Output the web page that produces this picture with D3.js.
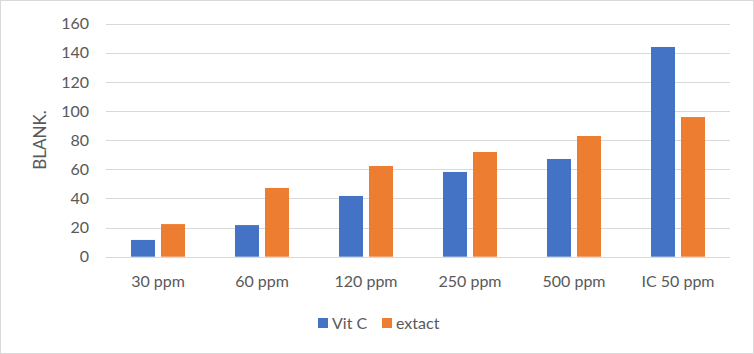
<!DOCTYPE html>
<html><head><meta charset="utf-8">
<script src="https://cdn.jsdelivr.net/npm/d3@7"></script>
<style>
html,body{margin:0;padding:0;background:#fff;}
svg{display:block;font-family:Lato,"Open Sans",sans-serif;}
</style></head>
<body><svg id="c" width="754" height="354"></svg>
<script>
const categories = ["30 ppm","60 ppm","120 ppm","250 ppm","500 ppm","IC 50 ppm"];
const seriesNames = ["Vit C","extact"];
const vitC = [11.5, 21.7, 41.7, 58.2, 67.1, 144];
const extact = [22.4, 47.2, 62.3, 71.9, 82.9, 95.9];
const yTicks = [0,20,40,60,80,100,120,140,160];
const colors = ["#4472C4","#ED7D31"];
const yTitle = "BLANK.";

const FS = "16px";
const svg = d3.select("#c");
const W = 754, H = 354;
svg.append("rect").attr("x",0.5).attr("y",0.5).attr("width",W-1).attr("height",H-1)
  .attr("fill","#fff").attr("stroke","#d9d9d9");

const m = {left:106, right:730, top:23.7, bottom:256.7};
const x = d3.scaleBand().domain(categories).range([m.left,m.right]).paddingInner(0).paddingOuter(0);
const y = d3.scaleLinear().domain([0,160]).range([m.bottom,m.top]);

// gridlines
svg.append("g").selectAll("line").data(yTicks).join("line")
  .attr("x1",m.left).attr("x2",m.right)
  .attr("y1",d=>Math.round(y(d))+0.5).attr("y2",d=>Math.round(y(d))+0.5)
  .attr("stroke","#d9d9d9").attr("stroke-width",1);

// y axis labels
const yAxis = d3.axisLeft(y).tickValues(yTicks).tickSize(0).tickPadding(0);
const ga = svg.append("g").attr("transform",`translate(89,0)`).call(yAxis);
ga.select(".domain").remove();
ga.selectAll("text").attr("fill","#595959").attr("font-size",FS).attr("font-family","Lato,'Open Sans',sans-serif");

// axis title
svg.append("text").attr("transform",`translate(46,140) rotate(-90)`)
  .attr("text-anchor","middle").attr("fill","#595959").attr("font-size","17px").text(yTitle);

// bars
const barW = 24, gap = 6;
const inner = d3.scaleBand().domain(seriesNames).range([0, barW*2+gap]).paddingInner(gap/(barW+gap)).paddingOuter(0);
const data = [vitC, extact];
const gBars = svg.append("g");
categories.forEach((c,i)=>{
  const x0 = x(c) + (x.bandwidth() - (barW*2+gap))/2;
  seriesNames.forEach((s,j)=>{
    const v = data[j][i];
    gBars.append("rect")
      .attr("x", x0 + inner(s)).attr("width", inner.bandwidth())
      .attr("y", y(v)).attr("height", y(0)-y(v))
      .attr("fill", colors[j]);
  });
});

// x axis labels
const xAxis = d3.axisBottom(x).tickSize(0).tickPadding(0);
const gx = svg.append("g").attr("transform",`translate(0,${m.bottom+19})`).call(xAxis);
gx.select(".domain").remove();
gx.selectAll("text").attr("fill","#595959").attr("font-size",FS).attr("font-family","Lato,'Open Sans',sans-serif");

// legend
const leg = svg.append("g");
const legX = [318, 382];
seriesNames.forEach((s,j)=>{
  leg.append("rect").attr("x",legX[j]).attr("y",318).attr("width",10).attr("height",10).attr("fill",colors[j]);
  leg.append("text").attr("x",legX[j]+14).attr("y",329).attr("fill","#595959")
    .attr("font-size",FS).text(s);
});
</script></body></html>
